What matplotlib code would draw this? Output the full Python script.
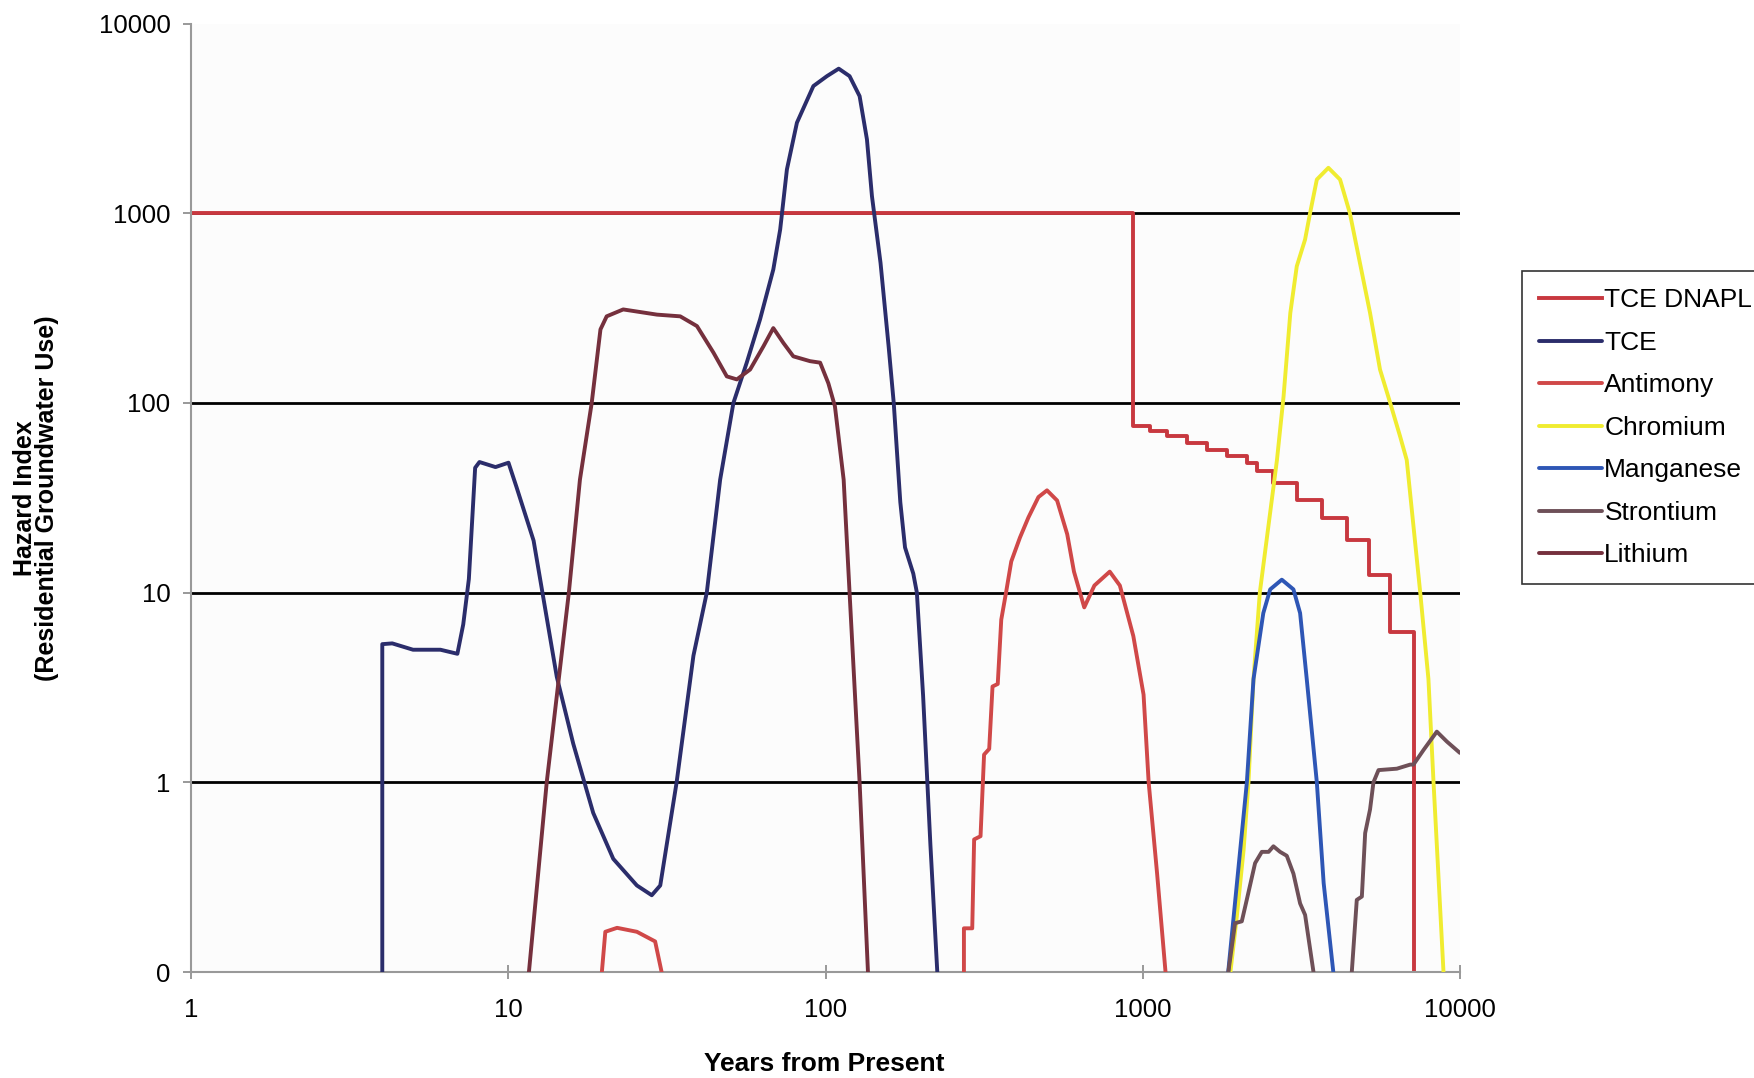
import numpy as np
import matplotlib
matplotlib.use("Agg")
import matplotlib.pyplot as plt
from matplotlib.ticker import FixedLocator, FixedFormatter, NullLocator

plt.rcParams['font.family'] = ['Liberation Sans', 'DejaVu Sans']

# values; 0 means the curve sits on the "0" floor
# None splits a series into separate pieces
dnapl_x = [1, 935, 1054, 1191, 1377, 1592, 1841, 2128, 2290, 2582, 3062, 3673, 4406, 5152, 6026, 7145, 7145]
dnapl_y = [1000, 75.3, 71, 67, 61.5, 56.7, 52.3, 48.3, 43.5, 37.8, 30.9, 24.7, 19.0, 12.4, 6.2, 0, 0]

tce_x = [4.0, 4.0, 4.3, 5.0, 6.1, 6.9, 7.2, 7.5, 7.85, 8.1, 9.1, 10.0, 10.6, 12.0, 14.2, 16.0,
         18.5, 21.4, 25.4, 28.3, 30.1, 33.9, 38.3, 42.2, 46.5, 51.2, 56.4, 62.1, 68.4, 71.9,
         75.5, 81.2, 91.5, 101, 110, 119, 128, 135, 140, 149, 158, 164, 172, 178, 189, 194,
         203, 214, 225]
tce_y = [0, 5.35, 5.4, 5.0, 5.0, 4.76, 6.8, 11.8, 45.5, 48.8, 45.9, 48.4, 36, 18.8, 3.6, 1.6,
         0.69, 0.395, 0.286, 0.254, 0.286, 1.0, 4.65, 10, 39.4, 100, 163, 275, 505, 820,
         1700, 3000, 4680, 5280, 5780, 5280, 4140, 2450, 1230, 547, 199, 100, 30, 17.3, 12.6, 10,
         2.85, 0.47, 0]

antimony_x = [19.7, 20.2, 22.0, 25.4, 29.0, 30.4, None,
              273, 273, 290, 294, 308, 316, 328, 336, 349, 358, 371, 385, 410, 436, 469, 499,
              537, 578, 607, 654, 704, 787, 847, 934, 1006, 1044, 1110, 1180]
antimony_y = [0, 0.163, 0.171, 0.163, 0.145, 0, None,
              0, 0.17, 0.17, 0.5, 0.52, 1.4, 1.5, 3.2, 3.3, 7.2, 10.1, 14.6, 19.5, 24.9, 31.9, 34.6,
              30.6, 20.3, 12.9, 8.36, 10.9, 12.9, 10.9, 5.9, 2.9, 1.0, 0.33, 0]

chromium_x = [1890, 1980, 2080, 2155, 2235, 2340, 2650, 2780, 2920, 3060, 3250, 3370, 3540, 3850,
              4190, 4500, 4960, 5210, 5600, 6030, 6480, 6800, 7500, 7960, 8260, 8880]
chromium_y = [0, 0.196, 0.44, 1.0, 3.5, 10, 50, 108, 298, 525, 726, 1000, 1505, 1735,
              1505, 1000, 447, 298, 150, 100, 66.6, 50, 10, 3.5, 1.0, 0]

manganese_x = [1860, 2130, 2235, 2400, 2523, 2745, 2987, 3135, 3290, 3540, 3720, 3990]
manganese_y = [0, 1.0, 3.5, 7.8, 10.4, 11.7, 10.4, 7.8, 3.5, 1.0, 0.294, 0]

strontium_x = [1862, 1955, 2053, 2128, 2261, 2374, 2494, 2583, 2711, 2846, 2987, 3135, 3251, 3455, None,
               4563, 4731, 4909, 5028, 5210, 5340, 5540, 6330, 6970, 7140, 7680, 8460, 9100, 10000]
strontium_y = [0, 0.181, 0.185, 0.24, 0.375, 0.43, 0.43, 0.46, 0.43, 0.41, 0.33, 0.23, 0.2, 0, None,
               0, 0.24, 0.25, 0.54, 0.72, 1.0, 1.16, 1.18, 1.24, 1.24, 1.48, 1.85, 1.64, 1.43]

lithium_x = [11.6, 13.2, 15.5, 16.8, 18.3, 19.5, 20.4, 23.0, 29.4, 34.8, 39.3, 44.3, 48.8, 52.5,
             57.8, 63.7, 68.4, 73.6, 79.1, 89.3, 96.1, 102, 107, 114, 119, 128, 136]
lithium_y = [0, 1.0, 10, 39.4, 100, 244, 286, 311, 292, 286, 254, 184, 138, 133,
             150, 199, 248, 207, 176, 166, 163, 127, 96, 39.4, 10, 1.0, 0]

series_names = ["TCE DNAPL", "TCE", "Antimony", "Chromium", "Manganese", "Strontium", "Lithium"]
series_colors = ["#c8383f", "#2b2d6b", "#d04848", "#f0ec30", "#2e56b5", "#6e5058", "#75303d"]

y_ticks = [0.1, 1, 10, 100, 1000, 10000]
y_tick_labels = ["0", "1", "10", "100", "1000", "10000"]
x_ticks = [1, 10, 100, 1000, 10000]
x_tick_labels = ["1", "10", "100", "1000", "10000"]
grid_levels = [1, 10, 100, 1000]

FLOOR = 0.1


def prep(xs, ys):
    x = np.array([np.nan if v is None else v for v in xs], dtype=float)
    y = np.array([np.nan if v is None else v for v in ys], dtype=float)
    y = np.where(y <= 0, FLOOR, y)
    return x, y


fig = plt.figure(figsize=(17.54, 10.78), dpi=100)
ax = fig.add_axes([0.1091, 0.0983, 0.7232, 0.8799])
ax.set_facecolor("#fcfcfc")

ax.set_xscale("log")
ax.set_yscale("log")
ax.set_xlim(1, 10000)
ax.set_ylim(0.1, 10000)

ax.hlines(grid_levels, 1, 10000, color="black", lw=2.0, zorder=1)

data = [(dnapl_x, dnapl_y), (tce_x, tce_y), (antimony_x, antimony_y), (chromium_x, chromium_y),
        (manganese_x, manganese_y), (strontium_x, strontium_y), (lithium_x, lithium_y)]
for i, (xs, ys) in enumerate(data):
    x, y = prep(xs, ys)
    if i == 0:
        ax.step(x, y, where="post", color=series_colors[i], lw=2.8, label=series_names[i], zorder=2 + i)
    else:
        ax.plot(x, y, color=series_colors[i], lw=2.8, label=series_names[i], zorder=2 + i,
                solid_joinstyle="round", solid_capstyle="round")

ax.yaxis.set_major_locator(FixedLocator(y_ticks))
ax.yaxis.set_major_formatter(FixedFormatter(y_tick_labels))
ax.yaxis.set_minor_locator(NullLocator())
ax.xaxis.set_major_locator(FixedLocator(x_ticks))
ax.xaxis.set_major_formatter(FixedFormatter(x_tick_labels))
ax.xaxis.set_minor_locator(NullLocator())

ax.tick_params(axis="y", direction="out", length=6, width=1.2, color="#888888", labelsize=18.5, pad=9)
ax.tick_params(axis="x", direction="inout", length=10, width=1.2, color="#888888", labelsize=18.5, pad=14)

for s in ["top", "right"]:
    ax.spines[s].set_visible(False)
for s in ["left", "bottom"]:
    ax.spines[s].set_color("#999999")
    ax.spines[s].set_linewidth(1.5)

fig.text(0.4698, 0.013, "Years from Present", ha="center", va="center", fontsize=19, fontweight="bold")
fig.text(0.0205, 0.538, "Hazard Index\n(Residential Groundwater Use)", rotation=90, ha="center",
         va="center", fontsize=18, fontweight="bold", linespacing=0.9, multialignment="center")

leg = ax.legend(loc="upper left", bbox_to_anchor=(0.8676, 0.7483), bbox_transform=fig.transFigure,
                fontsize=19, frameon=True, fancybox=False, edgecolor="black", borderpad=0.65,
                labelspacing=0.7, handlelength=2.4, handletextpad=0.08, borderaxespad=0)
leg.get_frame().set_linewidth(1.2)

fig.savefig("out.png", dpi=100)
